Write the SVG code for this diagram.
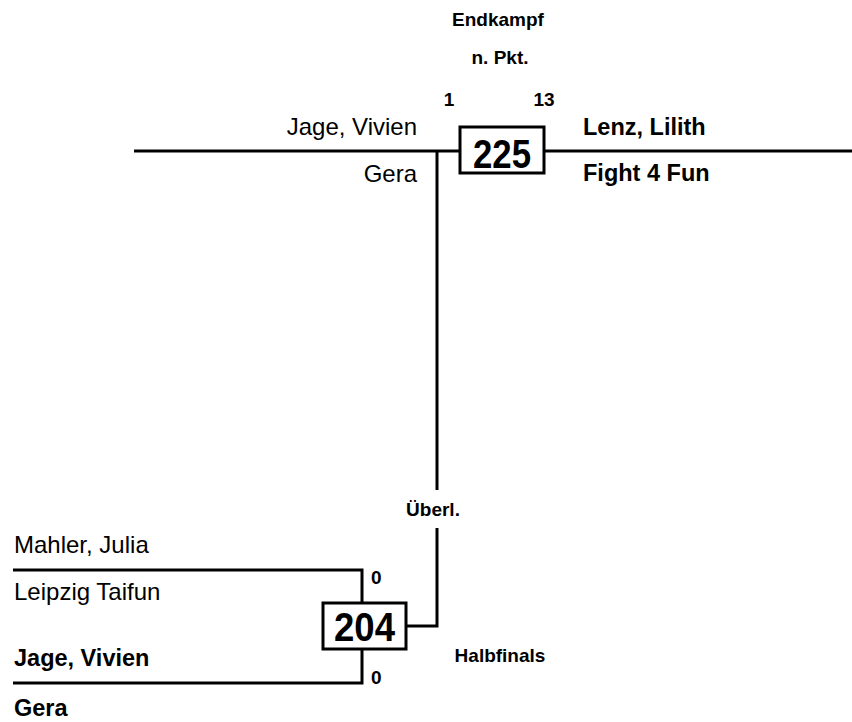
<svg xmlns="http://www.w3.org/2000/svg" width="852" height="722" viewBox="0 0 852 722">
<style>
.ln{stroke:#000;stroke-width:3;fill:none}
.bx{stroke:#000;stroke-width:3;fill:#fff}
text{font-family:"Liberation Sans",Arial,sans-serif;fill:#000}
.nm{font-size:24px}
.nb{font-size:23.5px;font-weight:bold}
.lb{font-size:19px;font-weight:bold}
.num{font-size:40px;font-weight:bold;text-anchor:middle}
</style>
<rect width="852" height="722" fill="#fff"/>
<g id="connectors">
<path class="ln" d="M134,151 H852"/>
<path class="ln" d="M437,151 V490"/>
<path class="ln" d="M437,528 V626 H406"/>
<path class="ln" d="M13,570 H362 V603"/>
<path class="ln" d="M13,683 H362 V649"/>
</g>
<g id="labels">
<text class="lb" x="498" y="26" text-anchor="middle">Endkampf</text>
<text class="lb" x="500" y="64" text-anchor="middle">n. Pkt.</text>
<text class="lb" x="449" y="106" text-anchor="middle">1</text>
<text class="lb" x="544" y="106" text-anchor="middle">13</text>
<text class="lb" x="433" y="516" text-anchor="middle">Überl.</text>
<text class="lb" x="500" y="662" text-anchor="middle">Halbfinals</text>
<text class="lb" x="371" y="584">0</text>
<text class="lb" x="371" y="684">0</text>
</g>
<g id="node-225">
<rect class="bx" x="460" y="127" width="84" height="46"/>
<text class="num" x="502" y="168" textLength="58" lengthAdjust="spacingAndGlyphs">225</text>
</g>
<g id="node-204">
<rect class="bx" x="323" y="603" width="83" height="46"/>
<text class="num" x="364.5" y="641" textLength="61" lengthAdjust="spacingAndGlyphs">204</text>
</g>
<g id="final-left">
<text class="nm" x="417" y="135" text-anchor="end">Jage, Vivien</text>
<text class="nm" x="417" y="182" text-anchor="end">Gera</text>
</g>
<g id="final-winner">
<text class="nb" x="583" y="135">Lenz, Lilith</text>
<text class="nb" x="583" y="181">Fight 4 Fun</text>
</g>
<g id="semi-top">
<text class="nm" x="14" y="553">Mahler, Julia</text>
<text class="nm" x="14" y="600">Leipzig Taifun</text>
</g>
<g id="semi-bottom">
<text class="nb" x="14" y="666">Jage, Vivien</text>
<text class="nb" x="14" y="716">Gera</text>
</g>
</svg>
